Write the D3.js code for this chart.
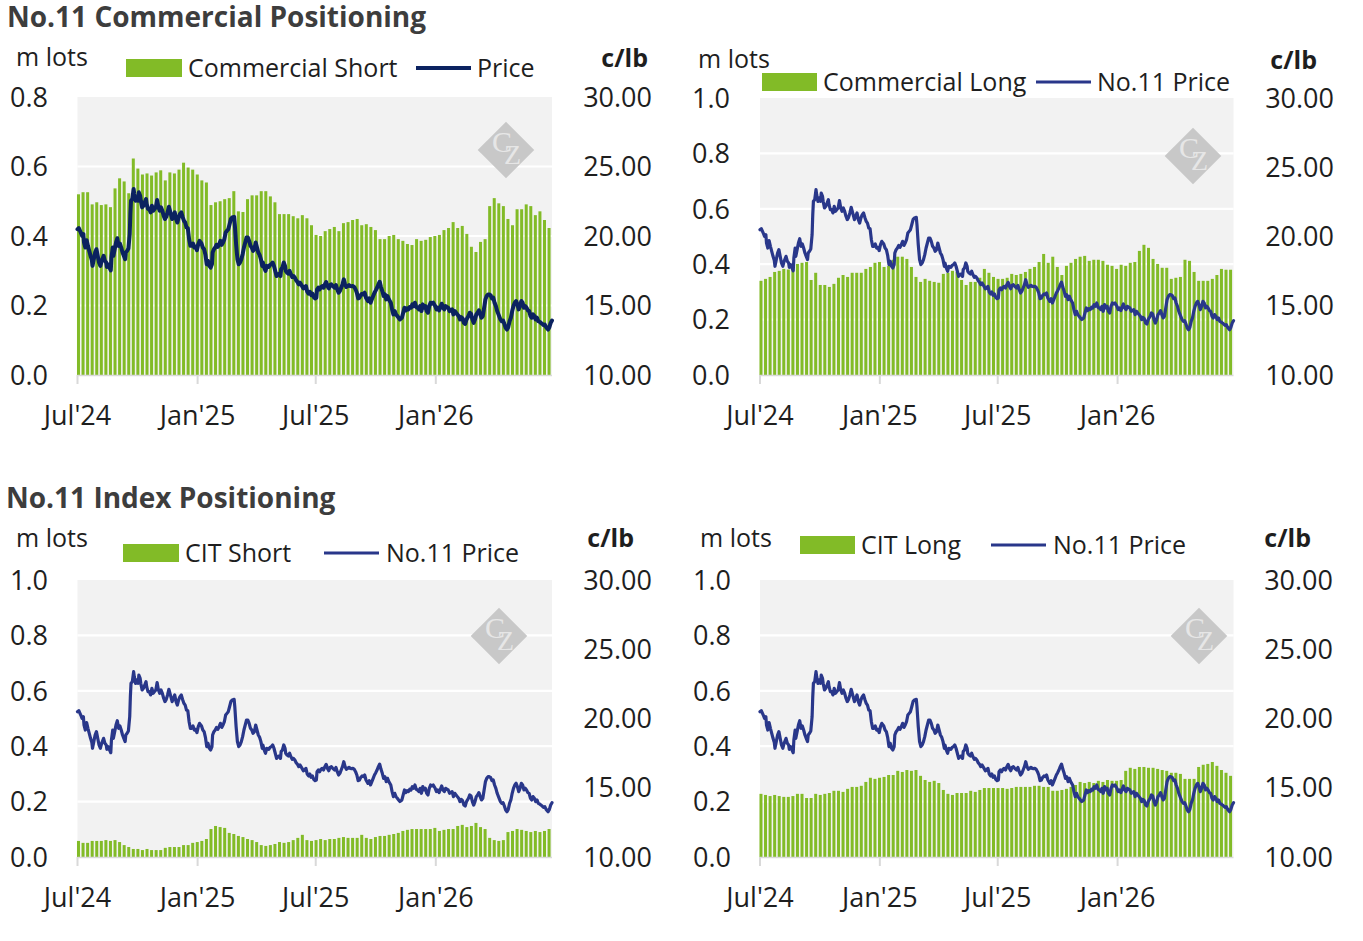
<!DOCTYPE html>
<html><head><meta charset="utf-8">
<script src="https://cdn.jsdelivr.net/npm/d3@7"></script>
<style>
html,body{margin:0;padding:0;background:#fff;}
svg{display:block;font-family:"Open Sans",sans-serif;}
</style></head>
<body>
<svg id="c" width="1363" height="941"></svg>
<script>
// ---------------- DATA ----------------
const barStart = "2024-07-02";           // first weekly (Tuesday) report
const priceStart = "2024-07-01";         // day 0 of the price series
const xTickLabels = ["Jul'24", "Jan'25", "Jul'25", "Jan'26"];
const xTickDates = ["2024-07-01", "2025-01-01", "2025-07-01", "2026-01-01"];

const commShort = [0.52,0.526,0.526,0.491,0.497,0.489,0.491,0.483,0.537,0.566,0.557,0.523,0.623,0.594,0.577,0.58,0.574,0.583,0.589,0.56,0.583,0.58,0.591,0.611,0.597,0.591,0.577,0.56,0.554,0.489,0.497,0.5,0.506,0.509,0.529,0.471,0.469,0.506,0.517,0.517,0.529,0.529,0.514,0.497,0.463,0.463,0.463,0.457,0.451,0.46,0.451,0.431,0.403,
0.4,0.414,0.42,0.426,0.414,0.437,0.44,0.446,0.449,0.431,0.434,0.426,0.417,0.391,0.391,0.4,0.403,0.391,0.386,0.377,0.374,0.391,0.386,0.389,0.397,0.4,0.403,0.417,0.423,0.44,0.423,0.429,0.406,0.369,0.354,0.383,0.391,0.486,0.509,0.494,0.486,0.449,0.431,0.477,0.477,0.491,0.486,0.46,0.471,0.446,0.423];

const commLong = [0.34,0.347,0.354,0.372,0.376,0.383,0.381,0.398,0.401,0.405,0.408,0.343,0.369,0.325,0.325,0.318,0.329,0.351,0.361,0.354,0.369,0.369,0.369,0.383,0.39,0.405,0.408,0.39,0.394,0.416,0.427,0.427,0.419,0.39,0.354,0.336,0.347,0.34,0.336,0.333,0.365,0.369,0.376,0.372,0.343,0.325,0.336,0.336,0.351,0.383,0.369,0.354,0.347,
0.347,0.351,0.365,0.361,0.365,0.372,0.383,0.39,0.408,0.437,0.405,0.427,0.39,0.361,0.394,0.405,0.419,0.427,0.43,0.412,0.416,0.416,0.412,0.398,0.394,0.383,0.398,0.394,0.405,0.408,0.448,0.47,0.459,0.419,0.401,0.387,0.387,0.347,0.351,0.354,0.416,0.412,0.372,0.34,0.34,0.34,0.347,0.361,0.383,0.38,0.38];

const citShort = [0.058,0.051,0.051,0.058,0.058,0.058,0.061,0.058,0.061,0.054,0.043,0.036,0.029,0.029,0.025,0.029,0.025,0.025,0.025,0.033,0.036,0.036,0.036,0.043,0.043,0.051,0.054,0.058,0.065,0.101,0.112,0.108,0.105,0.087,0.083,0.076,0.072,0.065,0.061,0.054,0.043,0.04,0.043,0.047,0.054,0.051,0.054,0.061,0.069,0.08,0.061,0.058,0.061,
0.065,0.061,0.065,0.065,0.069,0.072,0.069,0.069,0.069,0.08,0.069,0.065,0.072,0.076,0.076,0.08,0.083,0.087,0.094,0.098,0.101,0.101,0.101,0.101,0.101,0.105,0.094,0.098,0.101,0.101,0.112,0.116,0.108,0.112,0.123,0.108,0.101,0.069,0.061,0.058,0.061,0.09,0.094,0.101,0.098,0.094,0.09,0.094,0.09,0.094,0.101];

const citLong = [0.228,0.224,0.22,0.224,0.22,0.217,0.217,0.22,0.228,0.228,0.213,0.213,0.228,0.224,0.228,0.231,0.239,0.239,0.235,0.246,0.253,0.253,0.257,0.271,0.286,0.282,0.286,0.289,0.296,0.296,0.311,0.307,0.314,0.311,0.314,0.293,0.278,0.271,0.275,0.267,0.242,0.228,0.224,0.231,0.231,0.231,0.239,0.235,0.242,0.249,0.249,0.249,0.249,
0.249,0.246,0.249,0.253,0.253,0.253,0.253,0.257,0.257,0.253,0.253,0.239,0.239,0.242,0.246,0.253,0.26,0.271,0.267,0.271,0.267,0.275,0.271,0.278,0.275,0.275,0.278,0.311,0.322,0.318,0.325,0.325,0.322,0.322,0.318,0.314,0.311,0.304,0.304,0.3,0.282,0.282,0.282,0.325,0.333,0.336,0.343,0.329,0.314,0.304,0.293];

// No.11 price (c/lb): calendar-day offset from priceStart, and value
const priceDay = [0,2,5,7,9,10,12,14,16,18,20,22,23,25,27,29,31,33,35,37,40,42,44,45,47,49,51,52,54,55,57,59,61,63,65,67,69,71,73,74,76,78,80,81,82,84,86,87,89,91,93,94,96,97,99,101,103,105,106,108,110,112,114,116,118,120,122,124,126,128,130,132,134,136,138,140,143,145,147,149,151,153,155,157,159,161,163,165,167,169,171,173,175,177,179,181,183,185,187,190,192,194,196,198,200,202,204,206,207,209,211,213,215,217,219,221,223,225,227,229,231,233,
235,237,240,241,243,245,247,249,251,253,255,257,259,261,263,265,267,269,271,273,275,277,279,281,283,284,286,288,290,293,295,297,299,301,303,305,307,309,311,312,314,316,318,319,321,323,325,327,329,331,333,335,337,339,341,344,346,348,350,352,354,356,358,360,362,364,366,367,369,371,373,375,377,379,381,383,385,387,389,391,394,396,398,400,402,404,406,408,410,412,414,416,418,420,422,424,426,428,430,432,434,436,438,440,442,445,447,449,451,453,455,457,459,461,463,465,467,469,471,473,475,477,
480,482,484,486,488,490,492,494,497,499,501,503,505,507,509,511,513,515,517,519,521,523,525,527,529,531,533,535,537,539,541,543,545,548,550,552,554,556,558,560,562,564,566,568,570,572,574,576,578,580,582,584,586,588,590,592,594,596,599,601,603,605,607,609,611,613,615,617,619,621,623,625,627,629,631,633,635,637,639,641,643,645,648,650,652,654,656,658,660,662,664,666,668,670,672,674,676,678,680,682,684,686,688,690,692,694,696,698,700,702,704,706,708,710,712,714,716,718,721,723,725,727];
const priceVal = [20.49,20.57,20.25,20.01,20.13,19.53,19.17,19.70,19.29,18.93,18.57,18.26,17.85,18.33,18.81,19.05,18.57,18.09,17.85,18.21,18.57,18.21,18.09,17.77,17.97,17.73,17.53,18.45,19.17,18.57,19.05,19.53,19.84,19.29,19.46,19.17,18.81,18.57,18.33,18.81,18.93,19.10,20.13,21.58,22.54,22.66,23.38,23.02,22.54,22.78,22.54,23.14,22.90,22.54,22.06,22.18,22.42,22.66,22.30,21.94,21.94,21.70,22.18,21.82,21.94,22.06,22.59,22.06,21.82,22.06,21.82,21.46,21.22,21.38,21.70,22.11,21.58,21.22,21.46,21.70,21.22,20.97,21.34,21.58,21.70,21.38,21.10,20.97,20.61,20.57,19.77,19.29,19.29,19.46,19.17,19.22,18.98,19.41,19.65,19.46,19.17,19.05,18.64,17.97,18.21,17.85,17.73,17.97,18.81,19.05,19.17,19.36,19.22,19.41,19.65,19.36,19.53,19.77,20.25,20.37,20.49,20.85,
21.22,21.34,21.38,20.85,19.41,18.33,17.97,18.09,18.33,18.69,19.17,19.53,19.89,19.89,19.65,19.29,19.17,18.93,19.05,19.53,19.17,18.81,18.64,18.33,17.85,18.09,17.73,17.49,17.85,17.77,17.92,17.97,18.09,17.85,17.49,17.12,17.24,17.29,17.12,17.61,17.73,18.09,17.85,17.49,17.36,17.29,17.49,17.24,17.05,17.12,17.00,16.81,16.69,16.52,16.64,16.40,16.23,16.28,16.40,15.99,15.85,15.99,15.75,15.85,15.61,15.51,15.56,16.16,16.28,16.16,16.33,16.40,16.28,16.52,16.69,16.40,16.23,16.47,16.52,16.40,16.28,16.47,16.16,15.92,16.04,16.28,16.52,16.88,16.52,16.33,16.40,16.47,16.40,16.38,16.40,16.33,16.16,15.92,15.51,15.56,15.75,15.85,15.80,15.92,15.56,15.32,15.51,15.20,15.44,15.68,15.92,16.09,16.28,16.52,16.71,16.33,16.04,15.68,15.80,15.44,15.68,15.44,
15.20,14.72,14.36,14.60,14.36,14.24,14.12,14.00,14.12,14.48,14.84,14.65,14.79,14.72,14.89,14.84,15.08,14.96,15.20,14.89,14.84,14.72,14.96,14.60,15.08,14.84,14.96,14.60,14.48,14.96,15.20,15.13,15.20,14.96,14.72,14.84,14.65,14.89,15.13,14.84,14.72,14.96,14.89,14.84,14.60,14.65,14.72,14.36,14.60,14.48,14.36,14.24,14.00,14.16,14.07,13.75,13.68,14.00,14.24,14.48,14.40,14.00,13.75,14.00,14.36,14.48,14.65,14.36,14.12,14.24,14.84,15.44,15.68,15.80,15.80,15.73,15.51,15.56,15.20,14.96,14.60,14.36,14.00,13.87,13.92,13.68,13.39,13.27,13.44,13.87,14.12,14.60,14.96,15.20,15.32,15.08,14.72,14.96,15.32,15.20,14.84,14.96,14.84,14.65,14.60,14.24,14.12,14.36,14.24,14.00,14.12,13.87,13.83,13.75,13.68,13.59,13.63,13.44,13.27,13.44,13.75,13.92];

// ---------------- LAYOUT ----------------
const parse = d3.timeParse("%Y-%m-%d");
const bar0 = parse(barStart), price0 = parse(priceStart);
const xDomain = [parse("2024-07-01"), parse("2026-06-28")];
const priceData = priceDay.map((d, i) => ({date: d3.timeDay.offset(price0, d), v: priceVal[i]}));

const panels = [
  {x0: 77.5, x1: 552, yT: 97, yB: 375, lMax: 0.8, bars: commShort, lineColor: "#0b2260", lineW: 4,
   title: {text: "No.11 Commercial Positioning", x: 7, y: 27},
   mlots: [16, 57], clb: [648, 58], leftX: 48, rightX: 652, xLabY: 416,
   leg: {rect: [126, 59, 56, 18], t1: "Commercial Short", t1x: 188, ly: 68, lx: [416, 471], t2: "Price", t2x: 477},
   wm: [506, 150]},
  {x0: 760, x1: 1233.5, yT: 98, yB: 375, lMax: 1.0, bars: commLong, lineColor: "#29378a", lineW: 3.2,
   mlots: [698, 59], clb: [1317, 60], leftX: 730, rightX: 1334, xLabY: 416,
   leg: {rect: [762, 73, 55, 18], t1: "Commercial Long", t1x: 823, ly: 82, lx: [1036, 1091], t2: "No.11 Price", t2x: 1097},
   wm: [1193, 156]},
  {x0: 77.5, x1: 552, yT: 580, yB: 857, lMax: 1.0, bars: citShort, lineColor: "#29378a", lineW: 3.2,
   title: {text: "No.11 Index Positioning", x: 6, y: 508},
   mlots: [16, 538], clb: [634, 538], leftX: 48, rightX: 652, xLabY: 898,
   leg: {rect: [123, 544, 56, 18], t1: "CIT Short", t1x: 185, ly: 553, lx: [324, 379], t2: "No.11 Price", t2x: 386},
   wm: [499, 636]},
  {x0: 760, x1: 1233.5, yT: 580, yB: 857, lMax: 1.0, bars: citLong, lineColor: "#29378a", lineW: 3.2,
   mlots: [700, 538], clb: [1311, 538], leftX: 731, rightX: 1333, xLabY: 898,
   leg: {rect: [800, 536, 55, 18], t1: "CIT Long", t1x: 861, ly: 545, lx: [991, 1046], t2: "No.11 Price", t2x: 1053},
   wm: [1199, 636]}
];

const GREEN = "#82bb27", BG = "#f2f2f2", TXT = "#1e1e1e";
const svg = d3.select("#c");

panels.forEach(p => {
  const g = svg.append("g");
  const x = d3.scaleTime().domain(xDomain).range([p.x0, p.x1]);
  const yL = d3.scaleLinear().domain([0, p.lMax]).range([p.yB, p.yT]);
  const yR = d3.scaleLinear().domain([10, 30]).range([p.yB, p.yT]);

  // background
  g.append("rect").attr("x", p.x0).attr("y", p.yT).attr("width", p.x1 - p.x0).attr("height", p.yB - p.yT).attr("fill", BG);

  // gridlines
  const lt = d3.range(0, p.lMax + 1e-9, 0.2);
  g.selectAll(".grid").data(lt.filter(v => v > 0 && v < p.lMax - 1e-9)).join("line")
    .attr("x1", p.x0).attr("x2", p.x1).attr("y1", d => yL(d)).attr("y2", d => yL(d))
    .attr("stroke", "#fff").attr("stroke-width", 2.2);

  // watermark (diamond with "CZ" monogram)
  const wm = g.append("g").attr("transform", `translate(${p.wm[0]},${p.wm[1]})`);
  wm.append("rect").attr("x", -20).attr("y", -20).attr("width", 40).attr("height", 40)
    .attr("transform", "rotate(45)").attr("fill", "#c8c8c8");
  const mono = wm.append("text").attr("x", -14).attr("y", 2)
    .attr("font-family", "Liberation Serif, serif").attr("fill", "#e6e6e6");
  mono.append("tspan").attr("font-size", 30).text("C");
  mono.append("tspan").attr("font-size", 28).attr("dx", -8).attr("dy", 12).text("Z");

  // bars
  const bw = 3;
  g.selectAll(".bar").data(p.bars).join("rect")
    .attr("x", (d, i) => x(d3.timeHour.offset(d3.timeDay.offset(bar0, 7 * i), 12)) - bw / 2)
    .attr("width", bw)
    .attr("y", d => yL(d)).attr("height", d => yL(0) - yL(d))
    .attr("fill", GREEN);

  // x axis line and ticks
  g.append("line").attr("x1", p.x0).attr("x2", p.x1).attr("y1", p.yB + 0.5).attr("y2", p.yB + 0.5)
    .attr("stroke", "#d9d9d9").attr("stroke-width", 1.5);
  const td = xTickDates.map(parse);
  g.selectAll(".xt").data(td).join("line")
    .attr("x1", d => x(d)).attr("x2", d => x(d)).attr("y1", p.yB).attr("y2", p.yB + 9)
    .attr("stroke", "#d9d9d9").attr("stroke-width", 2);
  g.selectAll(".xl").data(td).join("text")
    .attr("x", d => x(d)).attr("y", p.xLabY).attr("dy", "0.35em").attr("text-anchor", "middle")
    .attr("font-size", 27).attr("fill", TXT).text((d, i) => xTickLabels[i]);

  // price line
  const line = d3.line().x(d => x(d.date)).y(d => yR(d.v)).curve(d3.curveLinear);
  g.append("path").datum(priceData).attr("d", line).attr("fill", "none")
    .attr("stroke", p.lineColor).attr("stroke-width", p.lineW).attr("stroke-linejoin", "round").attr("stroke-linecap", "round");

  // left axis labels
  const fmtL = d3.format(".1f");
  g.selectAll(".yl").data(lt).join("text")
    .attr("x", p.leftX).attr("y", d => yL(d)).attr("dy", "0.36em").attr("text-anchor", "end")
    .attr("font-size", 27).attr("fill", TXT).text(d => fmtL(d));
  // right axis labels
  const fmtR = d3.format(".2f");
  g.selectAll(".yr").data(yR.ticks(4)).join("text")
    .attr("x", p.rightX).attr("y", d => yR(d)).attr("dy", "0.36em").attr("text-anchor", "end")
    .attr("font-size", 27).attr("fill", TXT).text(d => fmtR(d));

  // header texts
  if (p.title) {
    g.append("text").attr("x", p.title.x).attr("y", p.title.y).attr("font-size", 28).attr("font-weight", 700)
      .attr("fill", "#3d3d3d").text(p.title.text);
  }
  g.append("text").attr("x", p.mlots[0]).attr("y", p.mlots[1]).attr("dy", "0.35em")
    .attr("font-size", 25).attr("fill", TXT).text("m lots");
  g.append("text").attr("x", p.clb[0]).attr("y", p.clb[1]).attr("dy", "0.35em").attr("text-anchor", "end")
    .attr("font-size", 25).attr("font-weight", 700).attr("fill", TXT).text("c/lb");

  // legend
  const L = p.leg;
  g.append("rect").attr("x", L.rect[0]).attr("y", L.rect[1]).attr("width", L.rect[2]).attr("height", L.rect[3]).attr("fill", GREEN);
  g.append("text").attr("x", L.t1x).attr("y", L.ly).attr("dy", "0.35em").attr("font-size", 25).attr("fill", TXT).text(L.t1);
  g.append("line").attr("x1", L.lx[0]).attr("x2", L.lx[1]).attr("y1", L.ly).attr("y2", L.ly)
    .attr("stroke", p.lineColor).attr("stroke-width", p.lineW);
  g.append("text").attr("x", L.t2x).attr("y", L.ly).attr("dy", "0.35em").attr("font-size", 25).attr("fill", TXT).text(L.t2);
});
</script>
</body></html>
